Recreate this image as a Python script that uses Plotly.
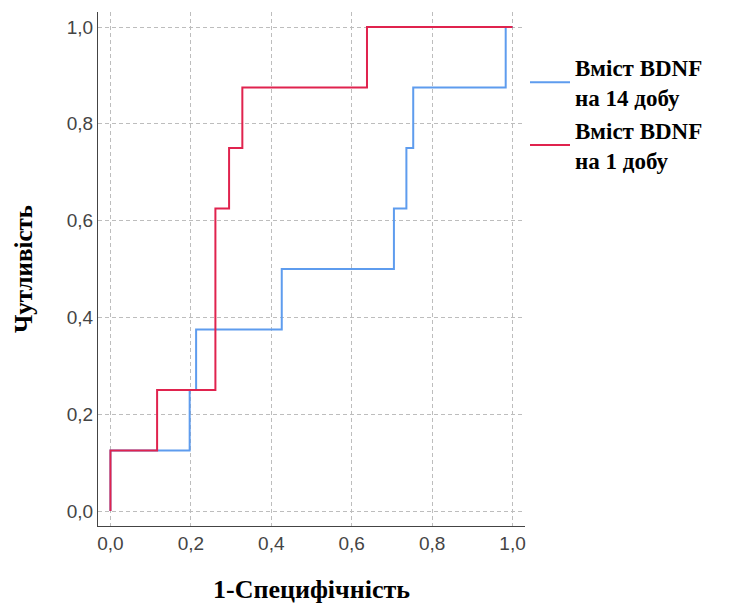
import plotly.graph_objects as go

# ROC curve step points (1 - specificity, sensitivity)
fpr_14 = [0.0, 0.0, 0.197, 0.213, 0.426, 0.705, 0.736, 0.753, 0.983, 1.0]
tpr_14 = [0.0, 0.125, 0.25, 0.375, 0.5, 0.625, 0.75, 0.875, 1.0, 1.0]

fpr_1 = [0.0, 0.0, 0.116, 0.261, 0.295, 0.328, 0.638, 1.0]
tpr_1 = [0.0, 0.125, 0.25, 0.625, 0.75, 0.875, 1.0, 1.0]

name_14 = "<b>Вміст BDNF<br>на 14 добу</b>"
name_1 = "<b>Вміст BDNF<br>на 1 добу</b>"

tick_vals = [0.0, 0.2, 0.4, 0.6, 0.8, 1.0]
tick_text = ["0,0", "0,2", "0,4", "0,6", "0,8", "1,0"]

fig = go.Figure()
fig.add_trace(go.Scatter(x=fpr_14, y=tpr_14, mode="lines", line_shape="hv",
                         line=dict(color="#5E9CEE", width=2), name=name_14))
fig.add_trace(go.Scatter(x=fpr_1, y=tpr_1, mode="lines", line_shape="hv",
                         line=dict(color="#E0234E", width=2), name=name_1))

axis_common = dict(
    range=[-0.031, 1.031], tickvals=tick_vals, ticktext=tick_text,
    showgrid=True, gridcolor="#bdbdbd", griddash="4px,3px", gridwidth=1,
    zeroline=False, showline=True, linecolor="#444444", linewidth=1,
    ticks="", automargin=False,
    tickfont=dict(family="Liberation Sans", size=19, color="#444444"),
)

fig.update_layout(
    width=734, height=605,
    margin=dict(l=98, r=209, t=12, b=79),
    plot_bgcolor="white", paper_bgcolor="white",
    xaxis=dict(**axis_common,
               title=dict(text="<b>1-Специфічність</b>",
                          font=dict(family="Liberation Serif", size=26, color="black"),
                          standoff=27)),
    yaxis=dict(**axis_common,
               title=dict(text="<b>Чутливість</b>",
                          font=dict(family="Liberation Serif", size=25, color="black"),
                          standoff=27)),
    legend=dict(x=1.0, y=0.934, xanchor="left", yanchor="top",
                font=dict(family="Liberation Serif", size=23, color="black"),
                tracegroupgap=0, itemwidth=40, bgcolor="rgba(0,0,0,0)"),
    showlegend=True,
)

fig.write_html("out.html")
